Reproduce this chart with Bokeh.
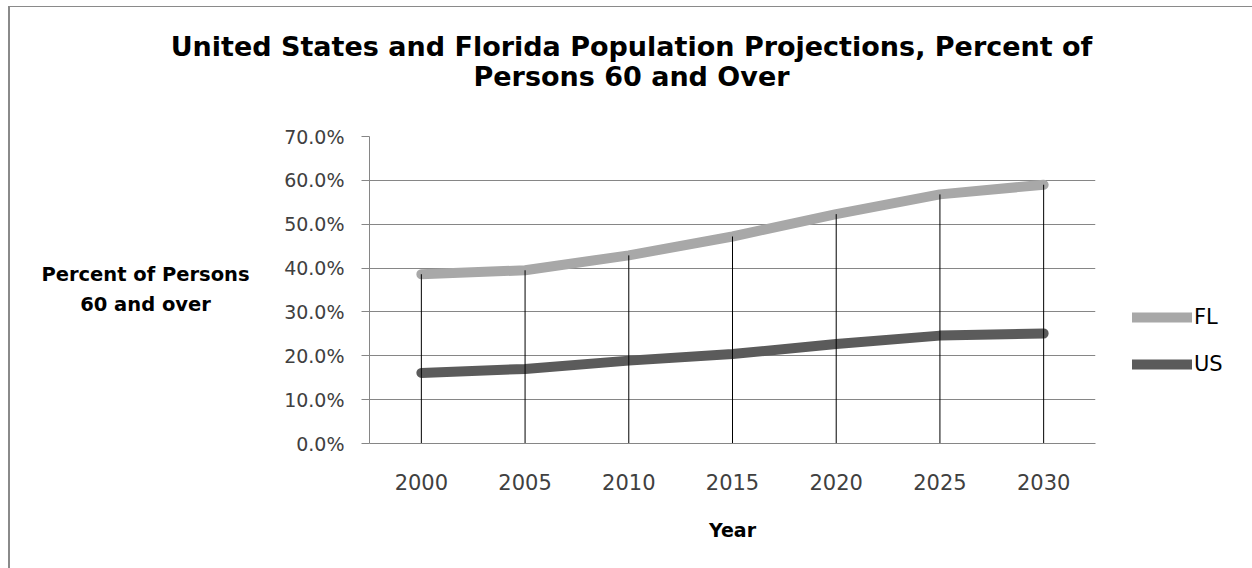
from bokeh.plotting import figure
from bokeh.models import (ColumnDataSource, FactorRange, Range1d, Label, Legend, LegendItem,
                          PrintfTickFormatter, FixedTicker)
from bokeh.embed import file_html
from bokeh.resources import INLINE

years = ["2000", "2005", "2010", "2015", "2020", "2025", "2030"]
fl_pct = [38.6, 39.5, 42.9, 47.2, 52.3, 56.8, 59.0]
us_pct = [16.1, 17.0, 18.9, 20.4, 22.7, 24.6, 25.1]
y_ticks = [0, 10, 20, 30, 40, 50, 60, 70]

title_text = "United States and Florida Population Projections, Percent of\nPersons 60 and Over"
y_title_text = "Percent of Persons\n60 and over"
x_title = "Year"

FONT = "DejaVu Sans"

src = ColumnDataSource(dict(year=years, fl=fl_pct, us=us_pct,
                            top=[max(a, b) for a, b in zip(fl_pct, us_pct)],
                            zero=[0] * len(years)))

p = figure(frame_width=726, frame_height=307, x_range=FactorRange(*years), y_range=Range1d(0, 70),
           output_backend="svg", toolbar_location=None, title_location=None,
           min_border_left=359, min_border_right=157, min_border_top=129, min_border_bottom=125)
p.styles = {"margin-left": "8px", "margin-top": "6px",
            "border-left": "2px solid #8a8a8a", "border-top": "1px solid #8a8a8a"}
p.outline_line_color = None
p.background_fill_color = "white"

# axes
p.yaxis.ticker = FixedTicker(ticks=y_ticks)
p.yaxis.formatter = PrintfTickFormatter(format="%.1f%%")
p.yaxis.axis_line_color = "#868686"
p.yaxis.major_tick_line_color = "#868686"
p.yaxis.major_tick_out = 8
p.yaxis.major_tick_in = 0
p.yaxis.minor_tick_line_color = None
p.yaxis.major_label_standoff = 17
p.yaxis.major_label_text_font = FONT
p.yaxis.major_label_text_font_size = "19px"
p.yaxis.major_label_text_color = "#404040"

p.xaxis.axis_line_color = "#868686"
p.xaxis.major_tick_line_color = None
p.xaxis.major_tick_out = 0
p.xaxis.major_tick_in = 0
p.xaxis.minor_tick_line_color = None
p.xaxis.major_label_standoff = 30
p.xaxis.major_label_text_font = FONT
p.xaxis.major_label_text_font_size = "21px"
p.xaxis.major_label_text_color = "#404040"
p.xaxis.axis_label = x_title
p.xaxis.axis_label_text_font = FONT
p.xaxis.axis_label_text_font_style = "bold"
p.xaxis.axis_label_text_font_size = "19px"
p.xaxis.axis_label_text_color = "black"
p.xaxis.axis_label_standoff = 26

p.xgrid.grid_line_color = None
p.ygrid.grid_line_color = "#868686"
p.ygrid.grid_line_width = 1

# series
r_fl = p.line("year", "fl", source=src, line_width=10, line_color="#A8A8A8",
              line_cap="round", line_join="round")
r_us = p.line("year", "us", source=src, line_width=10, line_color="#5B5B5B",
              line_cap="round", line_join="round")
# drop lines
p.segment(x0="year", y0="zero", x1="year", y1="top", source=src, line_color="black", line_width=1)

legend = Legend(items=[LegendItem(label="FL", renderers=[r_fl]),
                       LegendItem(label="US", renderers=[r_us])],
                location=(37, 67), orientation="vertical",
                glyph_width=60, glyph_height=20, label_height=20, spacing=23,
                label_standoff=2, padding=0, margin=0,
                border_line_color=None, background_fill_alpha=0,
                label_text_font=FONT, label_text_font_size="21px", label_text_color="black")
p.add_layout(legend, "right")

title = Label(x=262, y=75, x_units="screen", y_units="screen", text=title_text,
              text_align="center", text_baseline="middle", text_line_height=0.99,
              text_font=FONT, text_font_style="bold", text_font_size="27px",
              text_color="black")
p.add_layout(title, "above")

y_title = Label(x=72, y=154, x_units="screen", y_units="screen", text=y_title_text,
                text_align="center", text_baseline="middle", text_line_height=1.27,
                text_font=FONT, text_font_style="bold", text_font_size="19.5px",
                text_color="black")
p.add_layout(y_title, "left")

open("out.html", "w").write(file_html(p, INLINE))
